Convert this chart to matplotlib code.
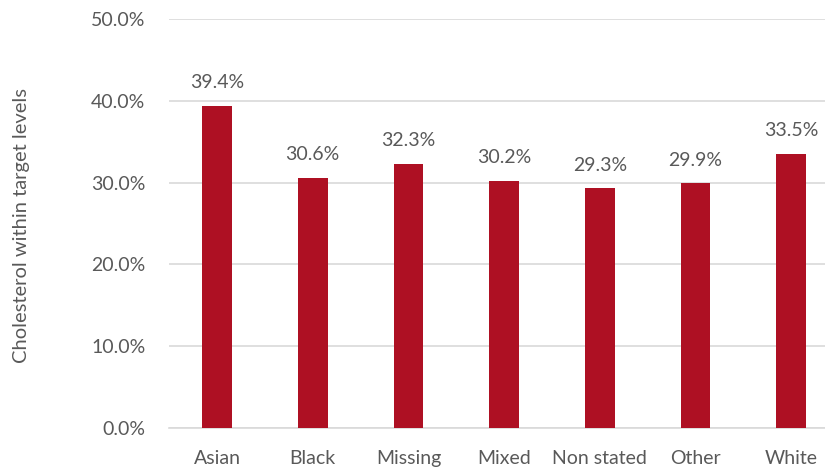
import matplotlib
matplotlib.use("Agg")
import matplotlib.pyplot as plt
from matplotlib.ticker import FuncFormatter, MultipleLocator

categories = ["Asian", "Black", "Missing", "Mixed", "Non stated", "Other", "White"]
values = [39.4, 30.6, 32.3, 30.2, 29.3, 29.9, 33.5]

BAR_COLOR = "#AE1023"
TEXT_COLOR = "#595959"
GRID_COLOR = "#D9D9D9"
FS = 14

plt.rcParams["font.family"] = ["Lato", "DejaVu Sans"]

fig = plt.figure(figsize=(8.25, 4.7), dpi=100)
ax = fig.add_axes([0.205, 0.089, 0.812, 0.871])

x = list(range(len(categories)))
ax.bar(x, values, width=0.31, color=BAR_COLOR, zorder=3)

for xi, v in zip(x, values):
    ax.annotate(f"{v:.1f}%", (xi, v), xytext=(0, 10.5), textcoords="offset points",
                ha="center", va="bottom", fontsize=FS, color=TEXT_COLOR)

ax.set_xlim(-0.5, len(categories) - 0.5)
ax.set_ylim(0, 50)
ax.yaxis.set_major_locator(MultipleLocator(10))
ax.yaxis.set_major_formatter(FuncFormatter(lambda v, _: f"{v:.1f}%"))
ax.set_xticks(x)
ax.set_xticklabels(categories)
ax.grid(axis="y", color=GRID_COLOR, linewidth=1.2, zorder=0)
ax.tick_params(axis="both", length=0, labelsize=FS, colors=TEXT_COLOR)
ax.tick_params(axis="y", pad=17)
ax.tick_params(axis="x", pad=16)
for side in ["top", "right", "left"]:
    ax.spines[side].set_visible(False)
ax.spines["bottom"].set_color(GRID_COLOR)
ax.spines["bottom"].set_linewidth(1.2)

fig.text(0.026, 0.521, "Cholesterol within target levels", rotation=90,
         ha="center", va="center", fontsize=14.5, color=TEXT_COLOR)

fig.savefig("out.png", dpi=100)
